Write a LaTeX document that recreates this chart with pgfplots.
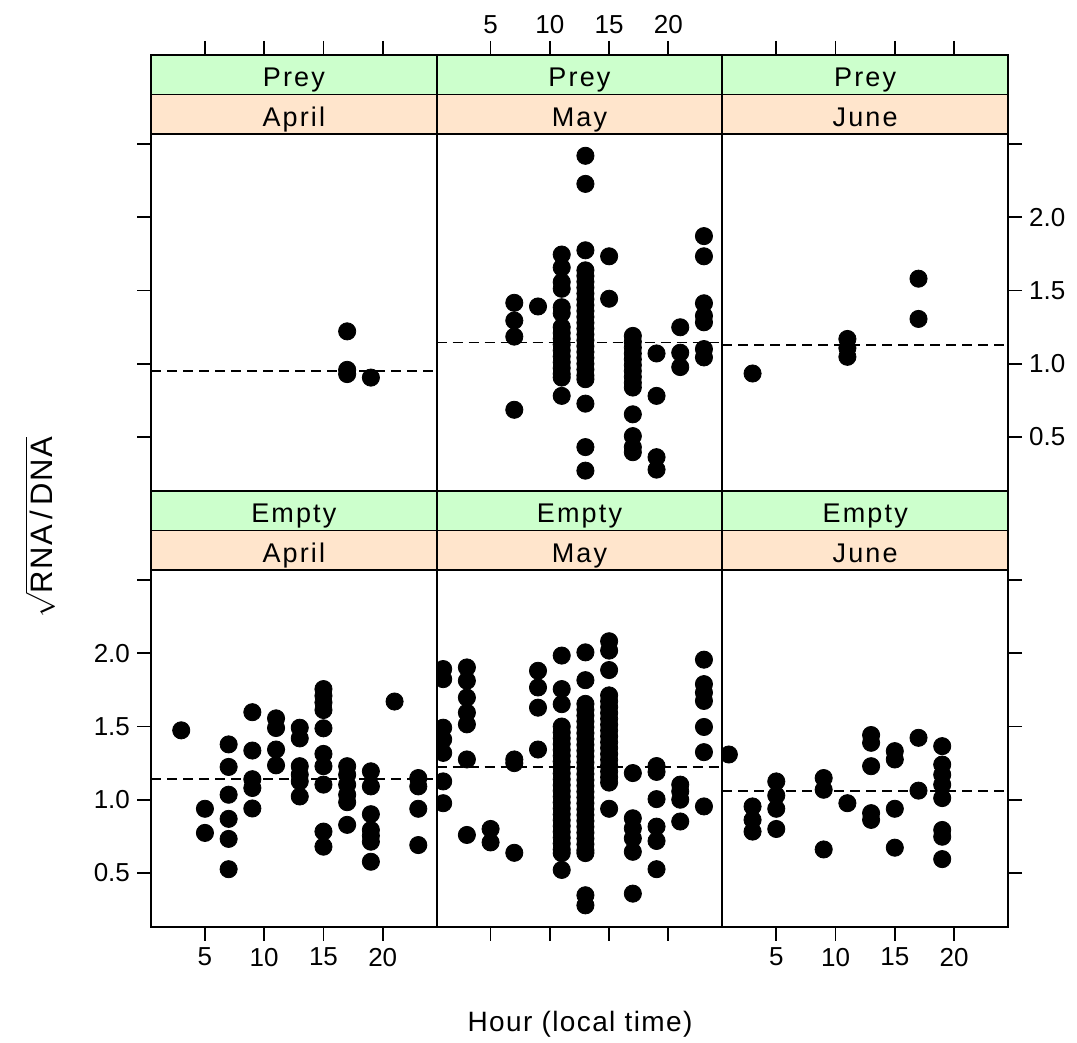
\documentclass[border=0pt]{standalone}
\usepackage{pgfplots}
\pgfplotsset{compat=1.18}
\usepackage{fontspec}
\setmainfont{Liberation Sans}
\newfontfamily\stripfont[LetterSpace=8]{Liberation Sans}
\newfontfamily\labfont[LetterSpace=5]{Liberation Sans}
\definecolor{sgreen}{HTML}{CCFFCC}
\definecolor{speach}{HTML}{FFE5CC}
\tikzset{stxt/.style={font=\fontsize{13.5}{16}\stripfont, anchor=base, inner sep=0pt}}
\pgfplotsset{
 base/.style={scale only axis, width=142.83pt, xmin=0.45, xmax=24.55,
   axis line style={line width=0.9pt}, every tick/.style={black, line width=0.9pt},
   tick align=outside, major tick length=7pt,
   tick label style={font=\fontsize{13}{15}\selectfont},
   /pgf/number format/assume math mode=true},
 panel/.style={base, height=178.5pt, ymin=0.13, ymax=2.57, xtick=\empty, ytick=\empty,
   clip marker paths=true},
 strip/.style={base, height=19.75pt, ymin=0, ymax=1, xtick=\empty, ytick=\empty},
 gstrip/.style={strip, axis background/.style={fill=sgreen}},
 pstrip/.style={strip, axis background/.style={fill=speach}},
 pts/.style={only marks, mark=*, mark size=4.3pt, black},
 mline/.style={black, line width=0.9pt, dash pattern=on 5pt off 3pt},
 noxl/.style={xticklabel={\phantom{0}}},
 noyl/.style={yticklabel={\phantom{0}}},
}
\newcommand\stext[1]{\node[stxt] at (rel axis cs:0.5,0.2) {#1};}
\begin{document}
\begin{tikzpicture}
\path[use as bounding box] (0,0) rectangle (538.5pt,521.5pt);

% ---------------- top row: Prey ----------------
% April
\begin{axis}[panel, at={(75.5pt,276pt)}, anchor=south west,
  ytick={0.5,1,1.5,2,2.5}, ytick pos=left, noyl]
\addplot[pts] coordinates {(17,1.221) (17,0.958) (17,0.929) (19,0.905)};
\addplot[mline] coordinates {(0.45,0.951) (24.55,0.951)};
\end{axis}
\begin{axis}[pstrip, at={(75.5pt,454.5pt)}, anchor=south west]
\stext{April}
\end{axis}
\begin{axis}[gstrip, at={(75.5pt,474.25pt)}, anchor=south west,
  xtick={5,10,15,20}, xtick pos=right, xticklabel pos=right, noxl]
\stext{Prey}
\end{axis}

% May
\begin{axis}[panel, at={(218.33pt,276pt)}, anchor=south west]
\addplot[pts] coordinates {
 (7,1.416) (7,1.295) (7,1.185) (7,0.685)
 (9,1.391)
 (11,1.746) (11,1.657) (11,1.558) (11,1.512) (11,1.386) (11,1.345) (11,1.25) (11,1.21) (11,1.17)
 (11,1.13) (11,1.09) (11,1.05) (11,1.01) (11,0.97) (11,0.93) (11,0.905) (11,0.78)
 (13,2.421) (13,2.229) (13,1.775) (13,1.638) (13,1.60) (13,1.56) (13,1.52) (13,1.48) (13,1.44)
 (13,1.40) (13,1.36) (13,1.32) (13,1.28) (13,1.24) (13,1.20) (13,1.16) (13,1.12) (13,1.08)
 (13,1.04) (13,1.00) (13,0.96) (13,0.92) (13,0.894) (13,0.727) (13,0.43) (13,0.269)
 (15,1.734) (15,1.444)
 (17,1.19) (17,1.15) (17,1.11) (17,1.07) (17,1.03) (17,0.99) (17,0.95) (17,0.91) (17,0.87)
 (17,0.837) (17,0.654) (17,0.505) (17,0.43) (17,0.395)
 (19,1.07) (19,0.78) (19,0.361) (19,0.276)
 (21,1.249) (21,1.075) (21,0.977)
 (23,1.872) (23,1.734) (23,1.413) (23,1.327) (23,1.283) (23,1.10) (23,1.043)
};
\addplot[mline] coordinates {(0.45,1.145) (24.55,1.145)};
\end{axis}
\begin{axis}[pstrip, at={(218.33pt,454.5pt)}, anchor=south west]
\stext{May}
\end{axis}
\begin{axis}[gstrip, at={(218.33pt,474.25pt)}, anchor=south west,
  xtick={5,10,15,20}, xtick pos=right, xticklabel pos=right, xticklabels={5,10,15,20}]
\stext{Prey}
\end{axis}

% June
\begin{axis}[panel, at={(361.17pt,276pt)}, anchor=south west,
  ytick={0.5,1,1.5,2,2.5}, ytick pos=right, yticklabel pos=right,
  yticklabels={0.5,1.0,1.5,2.0,{}}]
\addplot[pts] coordinates {(3,0.933) (11,1.169) (11,1.107) (11,1.047) (17,1.581) (17,1.306)};
\addplot[mline] coordinates {(0.45,1.128) (24.55,1.128)};
\end{axis}
\begin{axis}[pstrip, at={(361.17pt,454.5pt)}, anchor=south west]
\stext{June}
\end{axis}
\begin{axis}[gstrip, at={(361.17pt,474.25pt)}, anchor=south west,
  xtick={5,10,15,20}, xtick pos=right, xticklabel pos=right, noxl]
\stext{Prey}
\end{axis}

% ---------------- bottom row: Empty ----------------
% April
\begin{axis}[panel, at={(75.5pt,58pt)}, anchor=south west,
  xtick={5,10,15,20}, xtick pos=left, xticklabels={5,10,15,20},
  ytick={0.5,1,1.5,2,2.5}, ytick pos=left, yticklabels={0.5,1.0,1.5,2.0,{}}]
\addplot[pts] coordinates {
 (3,1.474)
 (5,0.938) (5,0.773)
 (7,1.378) (7,1.224) (7,1.034) (7,0.869) (7,0.732) (7,0.525)
 (9,1.598) (9,1.336) (9,1.14) (9,1.08) (9,0.94)
 (11,1.556) (11,1.49) (11,1.343) (11,1.235)
 (13,1.492) (13,1.419) (13,1.229) (13,1.171) (13,1.125) (13,1.022)
 (15,1.756) (15,1.71) (15,1.664) (15,1.613) (15,1.488) (15,1.313) (15,1.229) (15,1.103) (15,0.782) (15,0.679)
 (17,1.229) (17,1.171) (17,1.103) (17,1.034) (17,0.983) (17,0.828)
 (19,1.194) (19,1.091) (19,0.901) (19,0.793) (19,0.754) (19,0.713) (19,0.576)
 (21,1.671)
 (23,1.148) (23,1.091) (23,0.938) (23,0.69)
};
\addplot[mline] coordinates {(0.45,1.144) (24.55,1.144)};
\end{axis}
\begin{axis}[pstrip, at={(75.5pt,236.5pt)}, anchor=south west]
\stext{April}
\end{axis}
\begin{axis}[gstrip, at={(75.5pt,256.25pt)}, anchor=south west]
\stext{Empty}
\end{axis}

% May
\begin{axis}[panel, at={(218.33pt,58pt)}, anchor=south west,
  xtick={5,10,15,20}, xtick pos=left, noxl]
\addplot[pts] coordinates {
 (1,1.893) (1,1.824) (1,1.492) (1,1.412) (1,1.32) (1,1.125) (1,0.976)
 (3,1.904) (3,1.813) (3,1.698) (3,1.595) (3,1.515) (3,1.275) (3,0.759)
 (5,0.80) (5,0.708)
 (7,1.275) (7,1.25) (7,0.637)
 (9,1.881) (9,1.767) (9,1.629) (9,1.343)
 (11,1.985) (11,1.756) (11,1.653) (11,1.50) (11,1.46) (11,1.42) (11,1.38) (11,1.34) (11,1.30)
 (11,1.26) (11,1.22) (11,1.18) (11,1.14) (11,1.10) (11,1.06) (11,1.02) (11,0.98) (11,0.94)
 (11,0.90) (11,0.86) (11,0.82) (11,0.78) (11,0.74) (11,0.70) (11,0.66) (11,0.635) (11,0.52)
 (13,2.007) (13,1.817) (13,1.655) (13,1.615) (13,1.575) (13,1.535) (13,1.495) (13,1.455)
 (13,1.415) (13,1.375) (13,1.335) (13,1.295) (13,1.255) (13,1.215) (13,1.175) (13,1.135)
 (13,1.095) (13,1.055) (13,1.015) (13,0.975) (13,0.935) (13,0.895) (13,0.855) (13,0.815)
 (13,0.775) (13,0.735) (13,0.695) (13,0.655) (13,0.635) (13,0.347) (13,0.278)
 (15,2.083) (15,2.019) (15,1.886) (15,1.713) (15,1.673) (15,1.633) (15,1.593) (15,1.553)
 (15,1.513) (15,1.473) (15,1.433) (15,1.393) (15,1.353) (15,1.313) (15,1.273) (15,1.233)
 (15,1.193) (15,1.153) (15,1.117) (15,0.938)
 (17,1.182) (17,0.873) (17,0.804) (17,0.736) (17,0.644) (17,0.358)
 (19,1.23) (19,1.19) (19,1.004) (19,0.816) (19,0.718) (19,0.525)
 (21,1.103) (21,1.057) (21,1.0) (21,0.851)
 (23,1.957) (23,1.79) (23,1.732) (23,1.675) (23,1.497) (23,1.325) (23,0.954)
};
\addplot[mline] coordinates {(0.45,1.224) (24.55,1.224)};
\end{axis}
\begin{axis}[pstrip, at={(218.33pt,236.5pt)}, anchor=south west]
\stext{May}
\end{axis}
\begin{axis}[gstrip, at={(218.33pt,256.25pt)}, anchor=south west]
\stext{Empty}
\end{axis}

% June
\begin{axis}[panel, at={(361.17pt,58pt)}, anchor=south west,
  xtick={5,10,15,20}, xtick pos=left, xticklabels={5,10,15,20},
  ytick={0.5,1,1.5,2,2.5}, ytick pos=right, noyl]
\addplot[pts] coordinates {
 (1,1.309)
 (3,0.954) (3,0.862) (3,0.782)
 (5,1.125) (5,1.029) (5,0.938) (5,0.80)
 (9,1.148) (9,1.068) (9,0.66)
 (11,0.976)
 (13,1.442) (13,1.389) (13,1.229) (13,0.908) (13,0.862)
 (15,1.332) (15,1.275) (15,0.938) (15,0.672)
 (17,1.423) (17,1.062)
 (19,1.366) (19,1.24) (19,1.171) (19,1.103) (19,1.011) (19,0.793) (19,0.747) (19,0.594)
};
\addplot[mline] coordinates {(0.45,1.062) (24.55,1.062)};
\end{axis}
\begin{axis}[pstrip, at={(361.17pt,236.5pt)}, anchor=south west]
\stext{June}
\end{axis}
\begin{axis}[gstrip, at={(361.17pt,256.25pt)}, anchor=south west]
\stext{Empty}
\end{axis}

% axis titles
\node[font=\fontsize{14}{17}\labfont] at (290pt,9.5pt) {Hour (local time)};
\node[rotate=90, font=\fontsize{15.5}{18}\labfont] at (20pt,258pt) {$\sqrt{\mbox{RNA\,/\,DNA}}$};
\end{tikzpicture}
\end{document}
